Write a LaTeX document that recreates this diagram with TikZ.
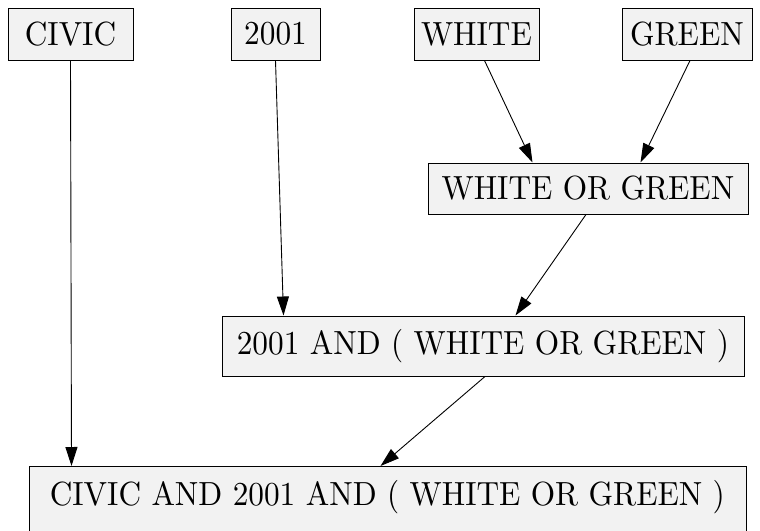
\documentclass[tikz,border=0pt]{standalone}
\usepackage{graphicx}
\usetikzlibrary{arrows.meta}
\font\dg=cmr10 at 31.3pt
\newcommand{\tallt}[1]{\scalebox{1}[1.07]{\dg #1}}
\begin{document}
\begin{tikzpicture}[x=1pt,y=-1pt,
  box/.style={draw=black,line width=1pt,fill=black!5,inner xsep=6pt,inner ysep=0pt},
  top/.style={box,minimum height=52pt},
  edge/.style={line width=0.9pt,-{Triangle[length=19pt,width=12pt]}}]
\useasboundingbox (0,0) rectangle (760,530);
\node[top,minimum width=125pt] (civic) at (70.5,34) {\tallt{CIVIC}};
\node[top,minimum width=89pt] (y2001) at (275.5,34) {\tallt{2001}};
\node[top,minimum width=125pt] (white) at (476.5,34) {\tallt{WHITE}};
\node[top,minimum width=130pt] (green) at (687,34) {\tallt{GREEN}};
\node[box,minimum width=320pt,minimum height=51pt] (wog) at (588,188.5) {\tallt{WHITE OR GREEN}};
\node[box,minimum width=522pt,minimum height=60pt] (mid) at (483,346) {\tallt{2001 AND ( WHITE OR GREEN )}};
\node[box,minimum width=717pt,inner ysep=10pt,text height=29pt,text depth=21pt,anchor=north] (bot) at (387.5,466) {\tallt{CIVIC AND 2001 AND ( WHITE OR GREEN )}};
\draw[edge] (civic.south) -- ([xshift=43pt]bot.north west);
\draw[edge] (y2001.south) -- ([xshift=62pt]mid.north west);
\draw[edge] ([xshift=8pt]white.south) -- ([xshift=105pt]wog.north west);
\draw[edge] ([xshift=3pt]green.south) -- ([xshift=213pt]wog.north west);
\draw[edge] ([xshift=-2pt]wog.south) -- ([xshift=294pt]mid.north west);
\draw[edge] ([xshift=2pt]mid.south) -- ([xshift=352pt]bot.north west);
\end{tikzpicture}
\end{document}
